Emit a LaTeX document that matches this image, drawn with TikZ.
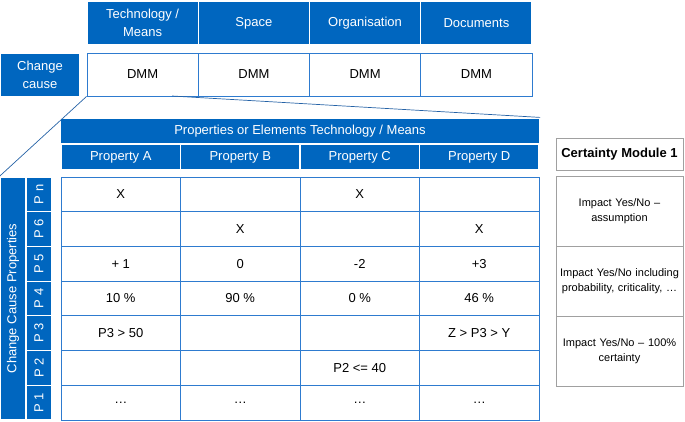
\documentclass[tikz,border=0pt]{standalone}
\usepackage{fontspec}
\setmainfont{Liberation Sans}
\usetikzlibrary{positioning}
\definecolor{dmblue}{RGB}{0,102,191}
\definecolor{dmline}{RGB}{46,123,207}
\definecolor{dmgray}{RGB}{160,160,160}

\begin{document}
\begin{tikzpicture}[x=1pt, y=-1pt, font=\fontsize{13}{17.5}\selectfont, every text node part/.style={align=center},
  head/.style={draw=white, line width=1.2pt, fill=dmblue, text=white, inner sep=0pt},
  dmm/.style={draw=dmline, line width=0.8pt, fill=white, inner sep=0pt, minimum width=111.25pt, minimum height=43pt},
  cell/.style={draw=dmline, line width=0.8pt, fill=white, inner sep=0pt, minimum width=119.5pt, minimum height=34.71pt},
  plabel/.style={head, rotate=90, minimum width=34.71pt, minimum height=26pt},
  certbox/.style={draw=dmgray, line width=0.8pt, inner sep=0pt, minimum width=127pt, minimum height=70pt, text width=124pt, font=\fontsize{11}{14.5}\selectfont},
  zoomline/.style={draw=dmline!80!black, line width=0.7pt}]
\useasboundingbox (0,0) rectangle (685,421);
% domains
\node[head, minimum width=111.25pt, minimum height=44pt] (tech) at (142.6,23) {Technology /\\Means};
\node[head, minimum width=111.25pt, minimum height=44pt] (space) at (253.9,23) {Space};
\node[head, minimum width=111.25pt, minimum height=44pt] (orga) at (365.1,23) {Organisation};
\node[head, minimum width=111.25pt, minimum height=44pt] (docs) at (476.4,23) {Documents};
\node[head, draw=none, minimum width=78pt, minimum height=42pt] (cause) at (40,75) {Change\\cause};
\node[dmm] (dmmT) at (142.6,74.5) {DMM};
\node[dmm] (dmmS) at (253.9,74.5) {DMM};
\node[dmm] (dmmO) at (365.1,74.5) {DMM};
\node[dmm] (dmmD) at (476.4,74.5) {DMM};
% detail of the DMM
\node[head, minimum width=479pt, minimum height=26pt] (props) at (300,131) {Properties or Elements Technology / Means};
\node[head, minimum width=119.5pt, minimum height=26pt] (propA) at (120.75,157) {Property A};
\node[head, minimum width=119.5pt, minimum height=26pt] (propB) at (240.25,157) {Property B};
\node[head, minimum width=119.5pt, minimum height=26pt] (propC) at (359.75,157) {Property C};
\node[head, minimum width=119.5pt, minimum height=26pt] (propD) at (479.25,157) {Property D};
\node[head, rotate=90, minimum width=243pt, minimum height=26pt] (ccp) at (13,298.5) {Change Cause Properties};
\foreach \pl/\ta/\tb/\tc/\td [count=\i] in {n/X/{}/X/{}, 6/{}/X/{}/X, 5/+ 1/0/-2/+3, 4/10 \%/90 \%/0 \%/46 \%,
    3/P3 > 50/{}/{}/Z > P3 > Y, 2/{}/{}/P2 <= 40/{}, 1/…/…/…/…}{
  \pgfmathsetmacro\yy{177+(\i-0.5)*34.71}
  \node[plabel] (p\pl) at (39,\yy) {P \pl};
  \node[cell] (c\i a) at (120.75,\yy) {\ta};
  \node[cell] (c\i b) at (240.25,\yy) {\tb};
  \node[cell] (c\i c) at (359.75,\yy) {\tc};
  \node[cell] (c\i d) at (479.25,\yy) {\td};
}
\coordinate (zoomR) at (172,96);
\draw[zoomline] (dmmT.south west) -- (ccp.north east);
\draw[zoomline] (zoomR) -- (props.north east);
% certainty
\node[draw=dmgray, line width=0.8pt, minimum width=127pt, minimum height=32pt, font=\fontsize{13}{17}\selectfont\bfseries] (cert) at (619.5,154) {Certainty Module 1};
\node[certbox] (certA) at (619.5,211) {Impact Yes/No –\\assumption};
\node[certbox] (certB) at (619.5,281) {Impact Yes/No including\\probability, criticality, …};
\node[certbox] (certC) at (619.5,351) {Impact Yes/No – 100\%\\certainty};
\end{tikzpicture}
\end{document}
